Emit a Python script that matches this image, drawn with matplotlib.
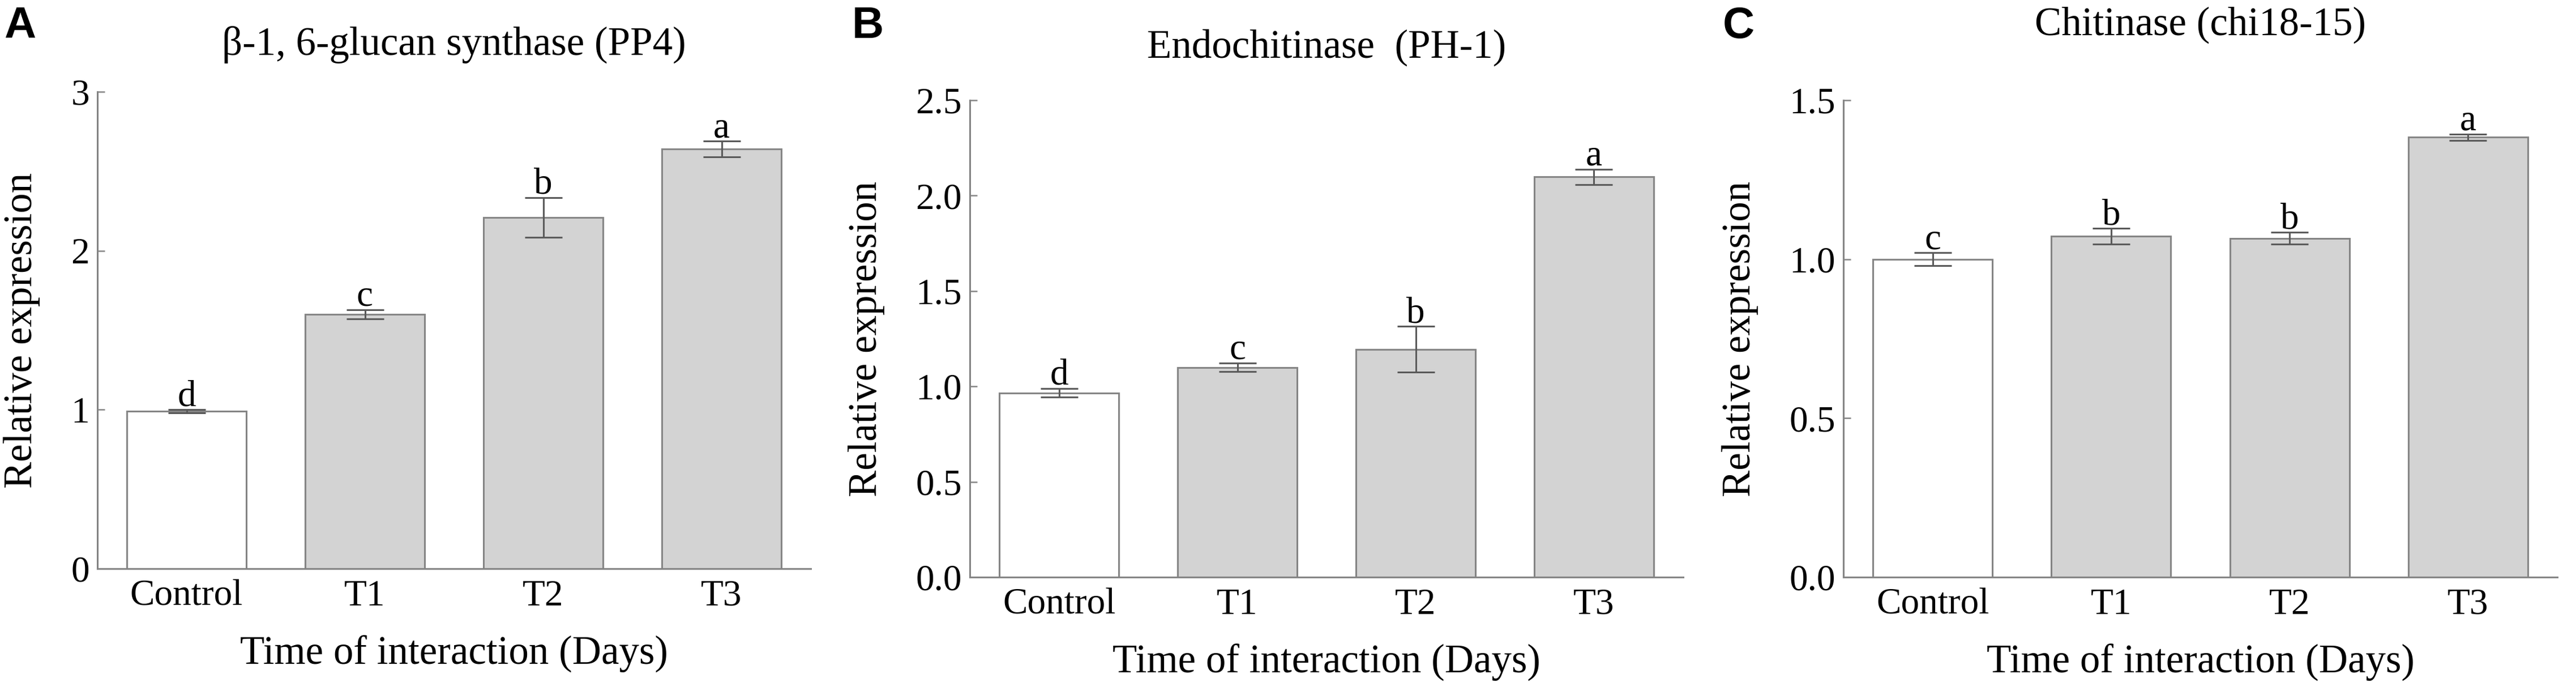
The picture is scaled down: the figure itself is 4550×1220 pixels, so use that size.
import matplotlib
matplotlib.use("Agg")
import matplotlib.pyplot as plt
import numpy as np

categories = ["Control", "T1", "T2", "T3"]

titles = ["β-1, 6-glucan synthase (PP4)", "Endochitinase  (PH-1)", "Chitinase (chi18-15)"]
panel_labels = ["A", "B", "C"]

values_A = [0.99, 1.60, 2.21, 2.64]
errors_A = [0.01, 0.03, 0.125, 0.05]
letters_A = ["d", "c", "b", "a"]

values_B = [0.966, 1.10, 1.195, 2.098]
errors_B = [0.023, 0.023, 0.12, 0.04]
letters_B = ["d", "c", "b", "a"]

values_C = [1.00, 1.072, 1.066, 1.384]
errors_C = [0.02, 0.025, 0.019, 0.01]
letters_C = ["c", "b", "b", "a"]

yticks_A = [0, 1, 2, 3]
yticks_B = [0.0, 0.5, 1.0, 1.5, 2.0, 2.5]
yticks_C = [0.0, 0.5, 1.0, 1.5]
ytick_labels_A = ["0", "1", "2", "3"]
ytick_labels_B = ["0.0", "0.5", "1.0", "1.5", "2.0", "2.5"]
ytick_labels_C = ["0.0", "0.5", "1.0", "1.5"]

xlabel = "Time of interaction (Days)"
ylabel = "Relative expression"

W, H = 4550, 1220
fig = plt.figure(figsize=(W / 100, H / 100), dpi=100)

serif = "Liberation Serif"
spine_col = "#858585"
fs_tick = 47
fs_lab = 51

# axes boxes in pixel coordinates (left, right, top, bottom)
boxes = [(172, 1432, 162, 1004), (1713, 2973, 177, 1019), (3256, 4517, 177, 1019)]
title_y = [1.078, 1.089, 1.137]
panel_x = [7, 1505, 3043]

datasets = [
    (values_A, errors_A, letters_A, yticks_A, ytick_labels_A),
    (values_B, errors_B, letters_B, yticks_B, ytick_labels_B),
    (values_C, errors_C, letters_C, yticks_C, ytick_labels_C),
]

for i, (vals, errs, lets, yt, ytl) in enumerate(datasets):
    l, r, t, b = boxes[i]
    ax = fig.add_axes([l / W, 1 - b / H, (r - l) / W, (b - t) / H])
    x = np.arange(len(categories))
    colors = ["white"] + ["#d3d3d3"] * (len(categories) - 1)
    ax.bar(x, vals, width=0.67, color=colors, edgecolor=spine_col, linewidth=2.2, zorder=2)
    ax.errorbar(x, vals, yerr=errs, fmt="none", ecolor="#5a5a5a", elinewidth=2.2,
                capsize=24, capthick=2.2, zorder=3)
    for xi, v, e, s in zip(x, vals, errs, lets):
        ax.annotate(s, (xi, v + e), xytext=(0, 5), textcoords="offset points",
                    ha="center", va="baseline", fontsize=fs_tick, family=serif)
    ax.set_xlim(-0.5, 3.5)
    ax.set_ylim(0, yt[-1])
    ax.set_xticks(x)
    ax.set_xticklabels(categories, fontsize=fs_tick, family=serif)
    ax.set_yticks(yt)
    ax.set_yticklabels(ytl, fontsize=fs_tick, family=serif)
    ax.tick_params(axis="both", direction="in", length=9, width=1.8, color=spine_col)
    ax.tick_params(axis="x", pad=14)
    ax.tick_params(axis="y", pad=10)
    for side in ["top", "right"]:
        ax.spines[side].set_visible(False)
    for side in ["left", "bottom"]:
        ax.spines[side].set_color(spine_col)
        ax.spines[side].set_linewidth(2.2)
    ax.set_xlabel(xlabel, fontsize=fs_lab, family=serif, labelpad=28)
    ax.set_ylabel(ylabel, fontsize=fs_lab, family=serif, labelpad=39)
    ax.text(0.5, title_y[i], titles[i], transform=ax.transAxes, ha="center",
            va="baseline", fontsize=fs_lab, family=serif)
    fig.text(panel_x[i] / W, 1 - 67 / H, panel_labels[i], fontsize=56,
             family="Liberation Sans", weight="bold", ha="left", va="baseline")

fig.savefig("out.png", dpi=100, facecolor="white")
